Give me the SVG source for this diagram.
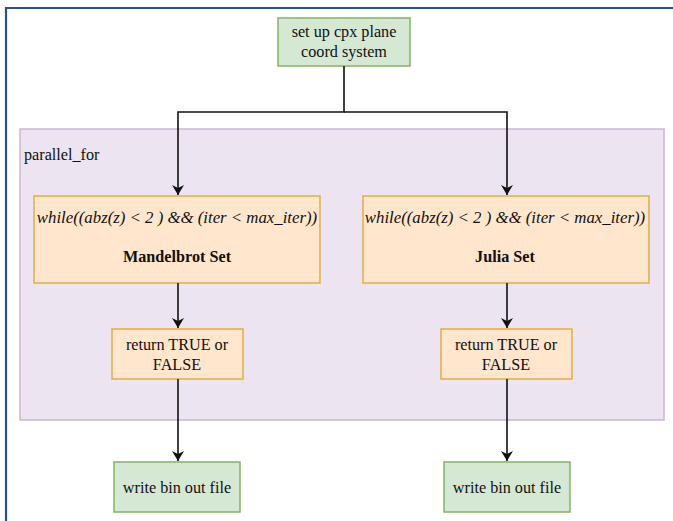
<svg xmlns="http://www.w3.org/2000/svg" width="673" height="521" viewBox="0 0 673 521">
<style>
text{font-family:"Liberation Serif","Times New Roman",serif;font-size:16.2px;fill:#111;}
.g{fill:#d5e8d4;stroke:#82b366;stroke-width:1.5;}
.o{fill:#ffe6cc;stroke:#e3ac45;stroke-width:1.5;}
.c{fill:none;stroke:#111;stroke-width:1.6;}
.m{text-anchor:middle;}
.i{font-style:italic;font-size:16.8px;}
</style>
<defs>
<marker id="ah" viewBox="0 0 10 12" refX="10" refY="6" markerWidth="10" markerHeight="12" markerUnits="userSpaceOnUse" orient="auto">
<path d="M0,0 L10,6 L0,12 L3,6 Z" fill="#111"/>
</marker>
</defs>
<rect x="0" y="0" width="673" height="521" fill="#fff"/>
<path d="M6,521 V8 H673" fill="none" stroke="#2b4f8f" stroke-width="2.2"/>
<g id="parallel_for">
<rect x="20" y="129" width="644" height="291" fill="#ece4f0" stroke="#cbb5d5" stroke-width="1.5"/>
<text x="24" y="160">parallel_for</text>
</g>
<g id="setup">
<rect class="g" x="278" y="18" width="132" height="48"/>
<text class="m" x="344" y="37">set up cpx plane</text>
<text class="m" x="344" y="57">coord system</text>
</g>
<g id="mandelbrot">
<rect class="o" x="34" y="196" width="286" height="87"/>
<text class="m i" x="177" y="223">while((abz(z) &lt; 2 ) &amp;&amp; (iter &lt; max_iter))</text>
<text class="m" x="177" y="262" font-weight="bold">Mandelbrot Set</text>
</g>
<g id="julia">
<rect class="o" x="363" y="196" width="286" height="87"/>
<text class="m i" x="505" y="223">while((abz(z) &lt; 2 ) &amp;&amp; (iter &lt; max_iter))</text>
<text class="m" x="505" y="262" font-weight="bold">Julia Set</text>
</g>
<g id="return_left">
<rect class="o" x="112" y="329" width="131" height="50"/>
<text class="m" x="177" y="350">return TRUE or</text>
<text class="m" x="177" y="370">FALSE</text>
</g>
<g id="return_right">
<rect class="o" x="441" y="329" width="131" height="50"/>
<text class="m" x="506" y="350">return TRUE or</text>
<text class="m" x="506" y="370">FALSE</text>
</g>
<g id="write_left">
<rect class="g" x="114" y="462" width="126" height="50"/>
<text class="m" x="177" y="493">write bin out file</text>
</g>
<g id="write_right">
<rect class="g" x="444" y="462" width="126" height="50"/>
<text class="m" x="507" y="493">write bin out file</text>
</g>
<g id="connectors">
<path class="c" d="M344,66 V112 H178 V195" marker-end="url(#ah)"/>
<path class="c" d="M344,112 H507 V195" marker-end="url(#ah)"/>
<path class="c" d="M178,283 V328" marker-end="url(#ah)"/>
<path class="c" d="M507,283 V328" marker-end="url(#ah)"/>
<path class="c" d="M178,379 V461" marker-end="url(#ah)"/>
<path class="c" d="M507,379 V461" marker-end="url(#ah)"/>
</g>
</svg>
